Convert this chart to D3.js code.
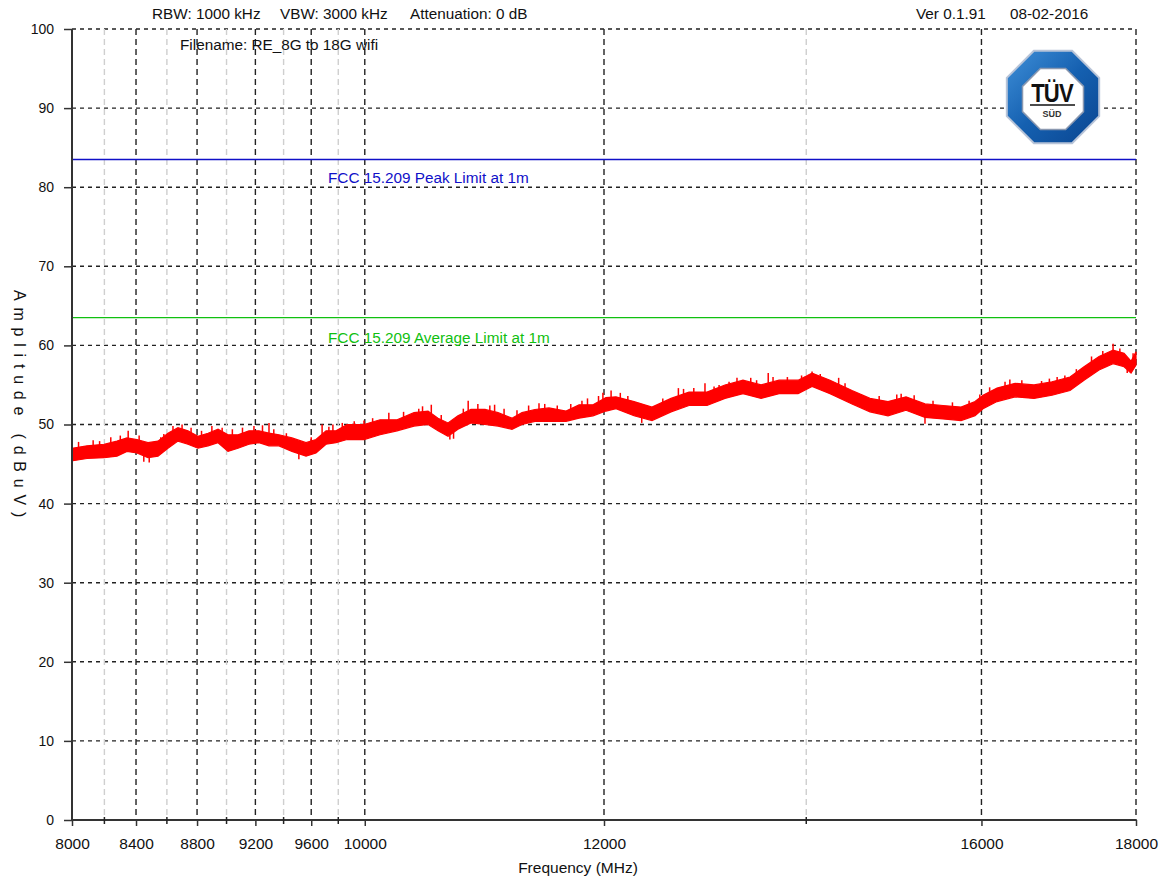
<!DOCTYPE html>
<html>
<head>
<meta charset="utf-8">
<style>
  body { margin: 0; background: #fff; }
  text { font-family: "Liberation Sans", Arial, sans-serif; }
</style>
</head>
<body>
<div id="chart"></div>
<script src="https://d3js.org/d3.v7.min.js"></script>
<script>
// header texts
var headerParts = [["RBW: 1000 kHz", 152], ["VBW: 3000 kHz", 280], ["Attenuation: 0 dB", 410]];
var headerVer = "Ver 0.1.91";
var headerDate = "08-02-2016";
var fileName = "Filename: RE_8G to 18G wifi";

// axes
var xTicks = [8000, 8400, 8800, 9200, 9600, 10000, 12000, 16000, 18000];
var xMinor = [8200, 8600, 9000, 9400, 9800, 14000];
var yTicks = [0, 10, 20, 30, 40, 50, 60, 70, 80, 90, 100];

// limit lines
var peakLimit = 83.5, peakLabel = "FCC 15.209 Peak Limit at 1m";
var avgLimit = 63.5, avgLabel = "FCC 15.209 Average Limit at 1m";

var freqs = [8000, 8092, 8198, 8279, 8342, 8406, 8477, 8542, 8607, 8673, 8739, 8806, 8874, 8942, 9010, 9079,
  9155, 9225, 9296, 9367, 9460, 9562, 9635, 9709, 9783, 9866, 9994, 10117, 10249, 10382, 10494, 10574,
  10655, 10736, 10843, 10959, 11069, 11187, 11273, 11385, 11507, 11658, 11774, 11900, 12018, 12110, 12278,
  12447, 12629, 12803, 12980, 13159, 13341, 13526, 13713, 13913, 14062, 14256, 14497, 14697, 14900, 15106,
  15326, 15538, 15753, 15922, 16019, 16191, 16415, 16654, 16884, 17117, 17301, 17500, 17688, 17837, 17932, 18000];
var traceHigh = [47.0, 47.3, 47.5, 47.9, 48.3, 48.1, 47.7, 47.9, 48.9, 49.6, 49.2, 48.5, 48.9, 49.4, 48.7, 48.7,
  49.2, 49.2, 48.9, 48.7, 48.3, 47.7, 48.1, 49.2, 49.2, 50.0, 50.0, 50.6, 50.6, 51.5, 51.7, 50.8,
  50.2, 51.1, 51.9, 51.9, 51.5, 50.8, 51.5, 51.9, 52.1, 51.7, 52.5, 52.5, 53.4, 53.5, 52.9,
  52.2, 53.3, 54.1, 54.1, 55.0, 55.6, 55.0, 55.6, 55.6, 56.5, 55.6, 54.3, 53.3, 52.9, 53.5,
  52.6, 52.4, 52.2, 52.9, 53.7, 54.6, 55.2, 55.0, 55.4, 56.0, 57.3, 58.6, 59.4, 59.0, 58.0, 59.2];
var traceLow = [45.4, 45.7, 45.8, 46.0, 46.6, 46.4, 45.8, 46.0, 47.0, 47.9, 47.5, 47.0, 47.3, 47.7, 46.6, 47.0,
  47.5, 47.7, 47.3, 47.3, 46.6, 46.0, 46.4, 47.5, 47.7, 48.1, 48.1, 48.7, 49.2, 49.8, 50.0, 49.2,
  48.5, 49.4, 50.2, 50.0, 49.8, 49.4, 50.0, 50.4, 50.4, 50.4, 50.8, 51.1, 51.7, 52.0, 51.1,
  50.5, 51.6, 52.4, 52.4, 53.3, 53.9, 53.3, 53.9, 53.9, 54.8, 53.9, 52.6, 51.6, 51.1, 51.8,
  50.9, 50.7, 50.5, 51.1, 52.0, 52.9, 53.5, 53.3, 53.7, 54.3, 55.6, 56.9, 57.7, 57.3, 56.5, 57.5];

// single noise spikes: [MHz, from dBuV, to dBuV]
var spikes = [[8040, 46.5, 47.8], [8130, 46.7, 48.0], [8170, 46.7, 47.9], [8240, 47.0, 48.4], [8300, 47.2, 48.6],
  [8350, 47.5, 49.2], [8420, 47.2, 48.6], [8450, 47.0, 45.3], [8485, 46.5, 45.2], [8560, 47.0, 48.4],
  [8580, 47.0, 48.8], [8640, 48.0, 49.8], [8700, 48.8, 50.0], [8760, 48.3, 49.6], [8830, 47.8, 49.2],
  [8900, 48.0, 49.8], [8970, 48.0, 49.6], [9040, 47.8, 49.4], [9110, 48.2, 49.6], [9190, 48.3, 49.8],
  [9250, 48.5, 49.9], [9296, 48.0, 50.2], [9330, 48.0, 49.4], [9420, 47.5, 48.9], [9510, 47.0, 45.6],
  [9600, 47.0, 48.4], [9680, 48.0, 50.0], [9730, 48.3, 49.7], [9760, 48.5, 50.0], [9830, 48.8, 50.2],
  [9920, 49.0, 50.4], [9994, 49.0, 50.5], [10060, 49.2, 50.8], [10185, 49.8, 51.5], [10300, 50.0, 51.6],
  [10420, 50.6, 52.0], [10450, 50.6, 52.3], [10520, 50.8, 52.5], [10600, 49.8, 51.2], [10670, 49.2, 48.1],
  [10700, 49.5, 48.2], [10780, 50.5, 52.0], [10820, 51.0, 53.0], [10900, 51.0, 52.6], [11000, 50.8, 52.4],
  [11040, 51.0, 52.5], [11120, 50.5, 52.0], [11230, 50.4, 51.8], [11330, 51.0, 52.4], [11420, 51.2, 52.7],
  [11470, 51.2, 52.6], [11580, 51.0, 52.4], [11700, 51.2, 52.6], [11800, 51.7, 53.0], [11850, 51.8, 53.3],
  [11950, 52.2, 53.6], [11990, 52.5, 54.0], [12065, 52.8, 54.3], [12150, 52.5, 54.0], [12220, 52.0, 53.6],
  [12350, 51.5, 50.2], [12550, 51.8, 53.3], [12700, 52.4, 54.6], [12750, 53.0, 54.5], [12850, 53.2, 54.6],
  [12960, 53.2, 55.2], [13050, 53.3, 54.8], [13100, 53.5, 55.0], [13200, 54.2, 55.4], [13280, 54.5, 55.9],
  [13420, 54.5, 55.9], [13480, 54.2, 55.6], [13600, 54.5, 56.5], [13650, 54.5, 56.0], [13800, 54.8, 56.0],
  [13950, 54.8, 56.2], [14062, 55.6, 56.7], [14150, 55.0, 56.4], [14350, 54.5, 55.9], [14420, 54.0, 55.2],
  [14600, 52.5, 53.8], [14800, 52.2, 53.6], [15000, 52.3, 53.8], [15050, 52.5, 53.9], [15200, 52.6, 53.7],
  [15326, 51.5, 50.1], [15420, 51.8, 53.0], [15650, 51.5, 52.8], [15850, 51.5, 53.0], [15980, 52.3, 53.8],
  [16100, 53.2, 54.7], [16290, 53.8, 55.4], [16350, 54.2, 55.7], [16500, 54.3, 55.6], [16750, 54.2, 55.5],
  [16850, 54.5, 55.8], [16950, 54.5, 56.0], [17050, 54.8, 56.2], [17200, 55.5, 57.0], [17400, 57.0, 58.6],
  [17550, 57.7, 59.3], [17688, 58.5, 60.2], [17780, 58.0, 59.6], [17880, 58.0, 56.5], [17960, 57.5, 59.0]];

var W = 1164, H = 881;
var margin = {top: 29, right: 28, bottom: 61, left: 72},
    width = W - margin.left - margin.right,
    height = H - margin.top - margin.bottom;

var svg = d3.select("#chart").append("svg")
    .attr("width", W).attr("height", H);

var g = svg.append("g")
    .attr("transform", "translate(" + margin.left + "," + margin.top + ")");

var x = d3.scaleLog().domain([8000, 18000]).range([0, width]);
var y = d3.scaleLinear().domain([0, 100]).range([height, 0]);

// horizontal grid
g.append("g").selectAll("line")
  .data(yTicks.filter(function(d) { return d > 0; }))
  .enter().append("line")
    .attr("x1", 0).attr("x2", width)
    .attr("y1", function(d) { return y(d); })
    .attr("y2", function(d) { return y(d); })
    .attr("stroke", "#222").attr("stroke-width", 1.4)
    .attr("stroke-dasharray", "4,4");

// vertical grid, light then dark
g.append("g").selectAll("line")
  .data(xMinor)
  .enter().append("line")
    .attr("x1", function(d) { return x(d); }).attr("x2", function(d) { return x(d); })
    .attr("y1", 0).attr("y2", height)
    .attr("stroke", "#cfcfcf").attr("stroke-width", 1.4)
    .attr("stroke-dasharray", "6,4");
g.append("g").selectAll("line")
  .data(xTicks.filter(function(d) { return d > 8000; }))
  .enter().append("line")
    .attr("x1", function(d) { return x(d); }).attr("x2", function(d) { return x(d); })
    .attr("y1", 0).attr("y2", height)
    .attr("stroke", "#222").attr("stroke-width", 1.4)
    .attr("stroke-dasharray", "6,4");

// limit lines
g.append("line")
  .attr("x1", 0).attr("x2", width)
  .attr("y1", y(peakLimit)).attr("y2", y(peakLimit))
  .attr("stroke", "#1010c8").attr("stroke-width", 1.3);
g.append("text")
  .attr("x", 256).attr("y", y(peakLimit) + 23)
  .attr("fill", "#1010c8").style("font-size", "15.3px")
  .text(peakLabel);
g.append("line")
  .attr("x1", 0).attr("x2", width)
  .attr("y1", y(avgLimit)).attr("y2", y(avgLimit))
  .attr("stroke", "#10c010").attr("stroke-width", 1.3);
g.append("text")
  .attr("x", 256).attr("y", y(avgLimit) + 25)
  .attr("fill", "#10c010").style("font-size", "15.3px")
  .text(avgLabel);

// trace
var traceData = freqs.map(function(f, i) { return {f: f, lo: traceLow[i], hi: traceHigh[i]}; });
g.append("path")
  .datum(traceData)
  .attr("fill", "#ff0000")
  .attr("stroke", "#ff0000").attr("stroke-width", 1.2)
  .attr("d", d3.area()
    .x(function(d) { return x(d.f); })
    .y0(function(d) { return y(d.lo); })
    .y1(function(d) { return y(d.hi); }));
g.append("g").selectAll("line")
  .data(spikes)
  .enter().append("line")
    .attr("x1", function(d) { return x(d[0]); }).attr("x2", function(d) { return x(d[0]); })
    .attr("y1", function(d) { return y(d[1]); })
    .attr("y2", function(d) { return y(d[2]); })
    .attr("stroke", "#ff0000").attr("stroke-width", 1.5);

// axes
var yAxis = g.append("g")
  .call(d3.axisLeft(y).tickValues(yTicks).tickSize(8).tickPadding(10).tickFormat(d3.format("d")));
var xAxis = g.append("g")
  .attr("transform", "translate(0," + height + ")")
  .call(d3.axisBottom(x).tickValues(xTicks).tickSize(6).tickPadding(12).tickFormat(d3.format("d")));
g.append("g")
  .attr("transform", "translate(0," + height + ")")
  .selectAll("line").data(xMinor).enter().append("line")
    .attr("x1", function(d) { return x(d); }).attr("x2", function(d) { return x(d); })
    .attr("y1", -3).attr("y2", 4)
    .attr("stroke", "#222").attr("stroke-width", 1.5);
[yAxis, xAxis].forEach(function(a) {
  a.select(".domain").attr("stroke", "#333").attr("stroke-width", 2);
  a.selectAll(".tick line").attr("stroke", "#333").attr("stroke-width", 1.5);
  a.selectAll("text").attr("fill", "#111")
    .style("font-family", "'Liberation Sans', Arial, sans-serif");
});
yAxis.selectAll("text").style("font-size", "14px");
xAxis.selectAll("text").style("font-size", "15.5px");
yAxis.select(".domain").attr("d", "M0," + height + "V0");
xAxis.select(".domain").attr("d", "M0,0H" + width);

// axis titles
svg.append("text")
  .attr("x", 578).attr("y", 873)
  .attr("text-anchor", "middle").attr("fill", "#111")
  .style("font-size", "15.5px")
  .text("Frequency (MHz)");
svg.append("text")
  .attr("transform", "translate(14,407) rotate(90)")
  .attr("text-anchor", "middle").attr("fill", "#111")
  .style("font-size", "16px").style("letter-spacing", "6.8px")
  .text("Amplitude (dBuV)");

// header
svg.append("g").selectAll("text")
  .data(headerParts)
  .enter().append("text")
    .attr("x", function(d) { return d[1]; }).attr("y", 19).attr("fill", "#111")
    .style("font-size", "15.3px")
    .text(function(d) { return d[0]; });
svg.append("text").attr("x", 916).attr("y", 19).attr("fill", "#111")
  .style("font-size", "15.3px").text(headerVer);
svg.append("text").attr("x", 1010).attr("y", 19).attr("fill", "#111")
  .style("font-size", "15.3px").text(headerDate);
svg.append("text").attr("x", 180).attr("y", 50).attr("fill", "#111")
  .style("font-size", "15.3px").text(fileName);

// TUV SUD logo
var octa = function(cx, cy, r) {
  return d3.range(8).map(function(i) {
    var a = Math.PI / 8 + i * Math.PI / 4;
    return [cx + r * Math.cos(a), cy + r * Math.sin(a)];
  });
};
var defs = svg.append("defs");
var grad = defs.append("linearGradient").attr("id", "tuvBlue")
  .attr("x1", "0").attr("y1", "0").attr("x2", "1").attr("y2", "1");
grad.append("stop").attr("offset", "0").attr("stop-color", "#3f8fd8");
grad.append("stop").attr("offset", "0.5").attr("stop-color", "#1560b0");
grad.append("stop").attr("offset", "1").attr("stop-color", "#0a4590");
var logo = svg.append("g");
logo.append("polygon")
  .attr("points", octa(1053, 97, 50).join(" "))
  .attr("fill", "url(#tuvBlue)").attr("stroke", "#b8c4d8").attr("stroke-width", 2);
logo.append("polygon")
  .attr("points", octa(1053, 99, 33).join(" "))
  .attr("fill", "#fff").attr("stroke", "#8a98b0").attr("stroke-width", 1.5);
logo.append("text")
  .attr("transform", "translate(1052,102) scale(0.85,1)")
  .attr("text-anchor", "middle").attr("fill", "#111")
  .style("font-size", "26px").style("font-weight", "bold").style("letter-spacing", "-1px")
  .text("TÜV");
logo.append("line").attr("x1", 1030).attr("x2", 1075).attr("y1", 105).attr("y2", 105)
  .attr("stroke", "#111").attr("stroke-width", 1.5);
logo.append("text").attr("x", 1052).attr("y", 117)
  .attr("text-anchor", "middle").attr("fill", "#333")
  .style("font-size", "9px").style("font-weight", "bold")
  .text("SÜD");
</script>
</body>
</html>
